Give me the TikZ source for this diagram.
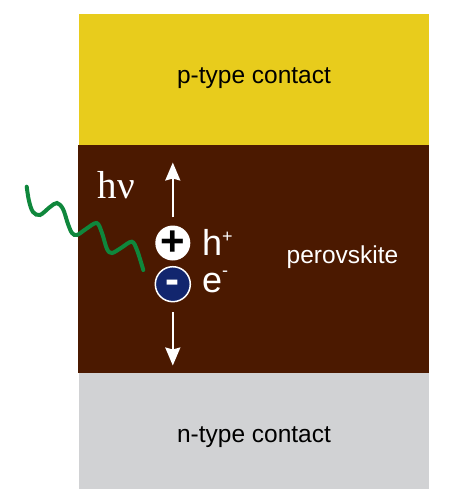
\documentclass[tikz,border=0pt]{standalone}
\usepackage{fontspec}
\setmainfont{Liberation Serif}
\setsansfont{Liberation Sans}
\usetikzlibrary{arrows.meta}
\definecolor{cP}{RGB}{232,204,28}
\definecolor{cPv}{RGB}{75,25,0}
\definecolor{cN}{RGB}{209,210,212}
\definecolor{cE}{RGB}{18,38,110}
\definecolor{cW}{RGB}{15,135,60}

\begin{document}
\begin{tikzpicture}[x=1pt,y=-1pt,font=\sffamily\fontsize{24.5}{28}\selectfont,
  lbl/.style={anchor=base,inner sep=0},
  car/.style={anchor=base west,inner sep=0,text=white,font=\sffamily\fontsize{36}{40}\selectfont},
  pm/.style={circle,minimum size=35pt,inner sep=0,font=\sffamily\bfseries\fontsize{42}{42}\selectfont},
  flow/.style={white,line width=2pt,-{Stealth[length=18pt,width=15pt,inset=2pt]}}]
  \useasboundingbox (0,0) rectangle (462,490);

  % ---- layers ----
  \fill[cP]  (79,14)  rectangle (429,145);
  \fill[cPv] (78,145) rectangle (429,373);
  \fill[cN]  (79,373) rectangle (429,489);
  \node[lbl] (pc) at (254,83)  {p-type contact};
  \node[lbl,text=white] (pv) at (342.5,263) {perovskite};
  \node[lbl] (nc) at (254,442) {n-type contact};

  % ---- photon ----
  \draw[cW,line width=4pt,line cap=round] plot[smooth,tension=0.55] coordinates
    {(26.7,186.7) (29,201) (33,212) (40,215) (50,207) (57,203) (63,209) (68,224) (72,233) (77,235)
     (86,229) (96.7,223) (102,233) (107,249) (112,253) (121,248) (131.7,241.7) (137,250) (143.3,270)};
  \node[anchor=base west,inner sep=0,text=white,font=\rmfamily\fontsize{39}{42}\selectfont] (hv) at (97.5,198) {hν};

  % ---- carriers ----
  \node[pm,fill=white,text=black,text height=24pt,text depth=-12pt] (hole) at (172.8,243) {+};
  \node[pm,fill=cE,draw=white,line width=1.5pt,text=white,text height=18pt,text depth=-9pt] (elec) at (172.8,284.2) {-};
  \node[car] (hp) at (202,255) {h\raisebox{0.36em}{\fontsize{18}{18}\selectfont +}};
  \node[car] (em) at (202,292) {e\raisebox{0.42em}{\fontsize{18}{18}\selectfont -}};

  \coordinate (h0) at (172.8,217.3);
  \coordinate (h1) at (172.8,162.5);
  \coordinate (e0) at (172.8,312);
  \coordinate (e1) at (172.8,365.5);
  \draw[flow] (h0) -- (h1);
  \draw[flow] (e0) -- (e1);

\end{tikzpicture}
\end{document}
